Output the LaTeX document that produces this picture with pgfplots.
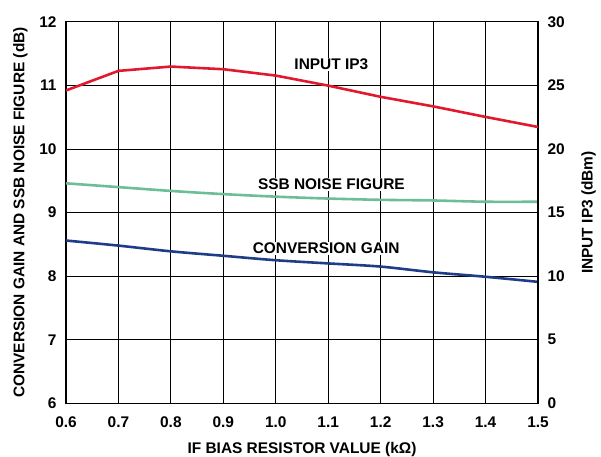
\documentclass[border=0pt]{standalone}
\usepackage{pgfplots}
\pgfplotsset{compat=1.18}
\usepackage{fontspec}
\setmainfont{Liberation Sans}

\definecolor{ip3red}{HTML}{E0192E}
\definecolor{nfgreen}{HTML}{6DBE98}
\definecolor{gainblue}{HTML}{1F3C88}

\newcommand{\tickfont}{\bfseries\fontsize{15.5}{17}\selectfont}
\newcommand{\labfont}{\bfseries\fontsize{15.5}{17}\selectfont}

\pgfplotsset{
  common/.style={
    scale only axis,
    width=472bp, height=381.5bp,
    at={(66bp,53.7bp)}, anchor=south west,
    xmin=0.6, xmax=1.5,
    xtick={0.6,0.7,...,1.5},
    major tick length=0pt,
    tick label style={font=\tickfont},
    label style={font=\labfont},
    /pgf/number format/assume math mode=true,
    axis line style={line width=1.4pt},
  },
}

\begin{document}
\begin{tikzpicture}
\useasboundingbox (0,0) rectangle (601bp,457bp);

\begin{axis}[
  common,
  ymin=6, ymax=12, ytick={6,...,12},
  grid=major,
  grid style={black, line width=0.8pt},
  xticklabel style={/pgf/number format/.cd, fixed, fixed zerofill, precision=1},
  yticklabel style={/pgf/number format/fixed},
  xlabel={IF BIAS RESISTOR VALUE (kΩ)},
  ylabel={CONVERSION GAIN AND SSB NOISE FIGURE (dB)},
  xlabel style={yshift=-8bp},
  ylabel style={yshift=5bp},
  xticklabel shift=10bp,
  yticklabel shift=6bp,
]
% SSB noise figure (dB)
\addplot[nfgreen, line width=2.6pt, smooth] coordinates {
  (0.6,9.46) (0.7,9.40) (0.8,9.34) (0.9,9.29) (1.0,9.25)
  (1.1,9.22) (1.2,9.20) (1.3,9.19) (1.4,9.17) (1.5,9.17)};
% conversion gain (dB)
\addplot[gainblue, line width=2.6pt, smooth] coordinates {
  (0.6,8.56) (0.7,8.48) (0.8,8.39) (0.9,8.32) (1.0,8.25)
  (1.1,8.20) (1.2,8.15) (1.3,8.06) (1.4,7.99) (1.5,7.91)};

\node[font=\labfont, fill=white, inner sep=1pt]
  at (axis cs:1.106,9.44) {SSB NOISE FIGURE};
\node[font=\labfont, fill=white, inner sep=1pt]
  at (axis cs:1.096,8.44) {CONVERSION GAIN};
\end{axis}

\begin{axis}[
  common,
  ymin=0, ymax=30, ytick={0,5,...,30},
  axis y line*=right,
  axis x line=none,
  ylabel={INPUT IP3 (dBm)},
  yticklabel shift=6bp,
  ylabel style={yshift=-10bp},
]
% input IP3 (dBm)
\addplot[ip3red, line width=2.6pt] coordinates {
  (0.6,24.6) (0.7,26.14) (0.8,26.48) (0.9,26.27) (1.0,25.77)
  (1.1,24.98) (1.2,24.1) (1.3,23.35) (1.4,22.52) (1.5,21.73)};
\node[font=\labfont, fill=white, inner sep=1pt]
  at (axis cs:1.106,26.65) {INPUT IP3};
\end{axis}
\end{tikzpicture}
\end{document}
